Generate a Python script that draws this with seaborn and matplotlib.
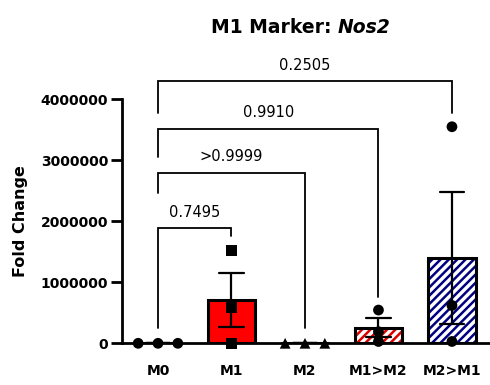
import numpy as np
import pandas as pd
import matplotlib
matplotlib.use("Agg")
import matplotlib.pyplot as plt
from matplotlib.patches import Rectangle
from matplotlib.ticker import FuncFormatter
import seaborn as sns

# ---------------- data ----------------
groups = ["M0", "M1", "M2", "M1>M2", "M2>M1"]
m0_vals = [0, 0, 0]
m1_vals = [1520000, 590000, 0]
m2_vals = [0, 0, 0]
m1m2_vals = [545000, 190000, 30000]
m2m1_vals = [3550000, 620000, 30000]
y_ticks = [0, 1000000, 2000000, 3000000, 4000000]

# comparisons: (group a, group b, p-value label)
comparisons = [("M0", "M1", "0.7495"),
               ("M0", "M2", ">0.9999"),
               ("M0", "M1>M2", "0.9910"),
               ("M0", "M2>M1", "0.2505")]
# bracket geometry (top, left leg bottom, right leg bottom, text y)
bracket_top = [1890000, 2790000, 3520000, 4305000]
bracket_left_end = [250000, 2460000, 3050000, 3775000]
bracket_right_end = [1760000, 250000, 760000, 3775000]
bracket_text_y = [2150000, 3070000, 3790000, 4560000]

values = [m0_vals, m1_vals, m2_vals, m1m2_vals, m2m1_vals]
df = pd.DataFrame({"group": np.repeat(groups, [len(v) for v in values]),
                   "value": np.concatenate(values).astype(float)})

# ---------------- style ----------------
sns.set_style("white")
plt.rcParams["font.family"] = ["DejaVu Sans"]
plt.rcParams["hatch.linewidth"] = 1.8
for k in ("text.color", "axes.labelcolor", "xtick.color", "ytick.color"):
    plt.rcParams[k] = "black"

fig = plt.figure(figsize=(4.9, 3.85), dpi=100)
ax = fig.add_axes([122 / 490, (385 - 343.3) / 385, (488.7 - 122) / 490, (343.3 - 99.3) / 385])

sns.barplot(data=df, x="group", y="value", order=groups, errorbar="se",
            width=0.65, capsize=0.33, color="white", edgecolor="black",
            linewidth=2.2, err_kws={"color": "black", "linewidth": 1.6},
            ax=ax, zorder=2)

fills = {"M0": ("white", None), "M1": ("#FF0000", None), "M2": ("white", None),
         "M1>M2": ("white", "#E00000"), "M2>M1": ("white", "#000080")}
for patch, g in zip(ax.patches[:len(groups)], groups):
    face, hatch_col = fills[g]
    patch.set_facecolor(face)
    if hatch_col is not None:
        patch.set_hatch("////")
        patch.set_edgecolor(hatch_col)
        patch.set_linewidth(0)
        ax.add_patch(Rectangle((patch.get_x(), patch.get_y()), patch.get_width(),
                               patch.get_height(), fill=False, edgecolor="black",
                               linewidth=2.2, zorder=2.5))

for line in ax.lines:
    line.set_zorder(3)

# individual points, spreading tied values horizontally
spread = 0.27
xs = []
for g, v in zip(groups, values):
    base = groups.index(g)
    v = np.asarray(v, dtype=float)
    off = np.zeros(len(v))
    for u in np.unique(v):
        idx = np.where(v == u)[0]
        k = len(idx)
        off[idx] = (np.arange(k) - (k - 1) / 2) * spread
    xs.extend(base + off)
df["xpos"] = xs
markers = {"M0": "o", "M1": "s", "M2": "^", "M1>M2": "o", "M2>M1": "o"}
sns.scatterplot(data=df, x="xpos", y="value", style="group", markers=markers,
                color="black", s=60, edgecolor="none", legend=False, ax=ax,
                zorder=4)
for c in ax.collections:
    c.set_clip_on(False)

# ---------------- axes ----------------
ax.set_xlim(-0.49, 4.5)
ax.set_ylim(0, 4000000)
ax.set_yticks(y_ticks)
ax.yaxis.set_major_formatter(FuncFormatter(lambda v, p: f"{int(v)}"))
ax.set_xticks(range(len(groups)))
ax.set_xticklabels(groups)
for lab in ax.get_xticklabels() + ax.get_yticklabels():
    lab.set_fontweight("bold")
    lab.set_fontsize(10)
ax.tick_params(axis="x", length=0, pad=15)
ax.tick_params(axis="y", length=8, width=2, pad=2, left=True, color="black")
ax.set_xlabel("")
ax.set_ylabel("Fold Change", fontsize=11.5, fontweight="bold", labelpad=9)
sns.despine(ax=ax)
for s in ("left", "bottom"):
    ax.spines[s].set_linewidth(2)
    ax.spines[s].set_color("black")
ax.spines["left"].set_bounds(0, 4000000)

# ---------------- brackets ----------------
for (a, b, lab), top, le, re, ty in zip(comparisons, bracket_top, bracket_left_end,
                                        bracket_right_end, bracket_text_y):
    xa, xb = groups.index(a), groups.index(b)
    ax.plot([xa, xa, xb, xb], [le, top, top, re], color="black", lw=1.3,
            clip_on=False, zorder=5, solid_joinstyle="miter")
    ax.text((xa + xb) / 2, ty, lab, ha="center", va="center", fontsize=10.5,
            clip_on=False)

# ---------------- title ----------------
t1 = fig.text(211 / 490, 1 - 33 / 385, "M1 Marker: ", fontsize=13.5,
              fontweight="bold", ha="left", va="baseline")
ax.annotate("Nos2", xy=(1, 0), xycoords=t1, fontsize=13.5, fontweight="bold",
            fontstyle="italic", ha="left", va="bottom", annotation_clip=False)

fig.savefig("out.png", dpi=100)
